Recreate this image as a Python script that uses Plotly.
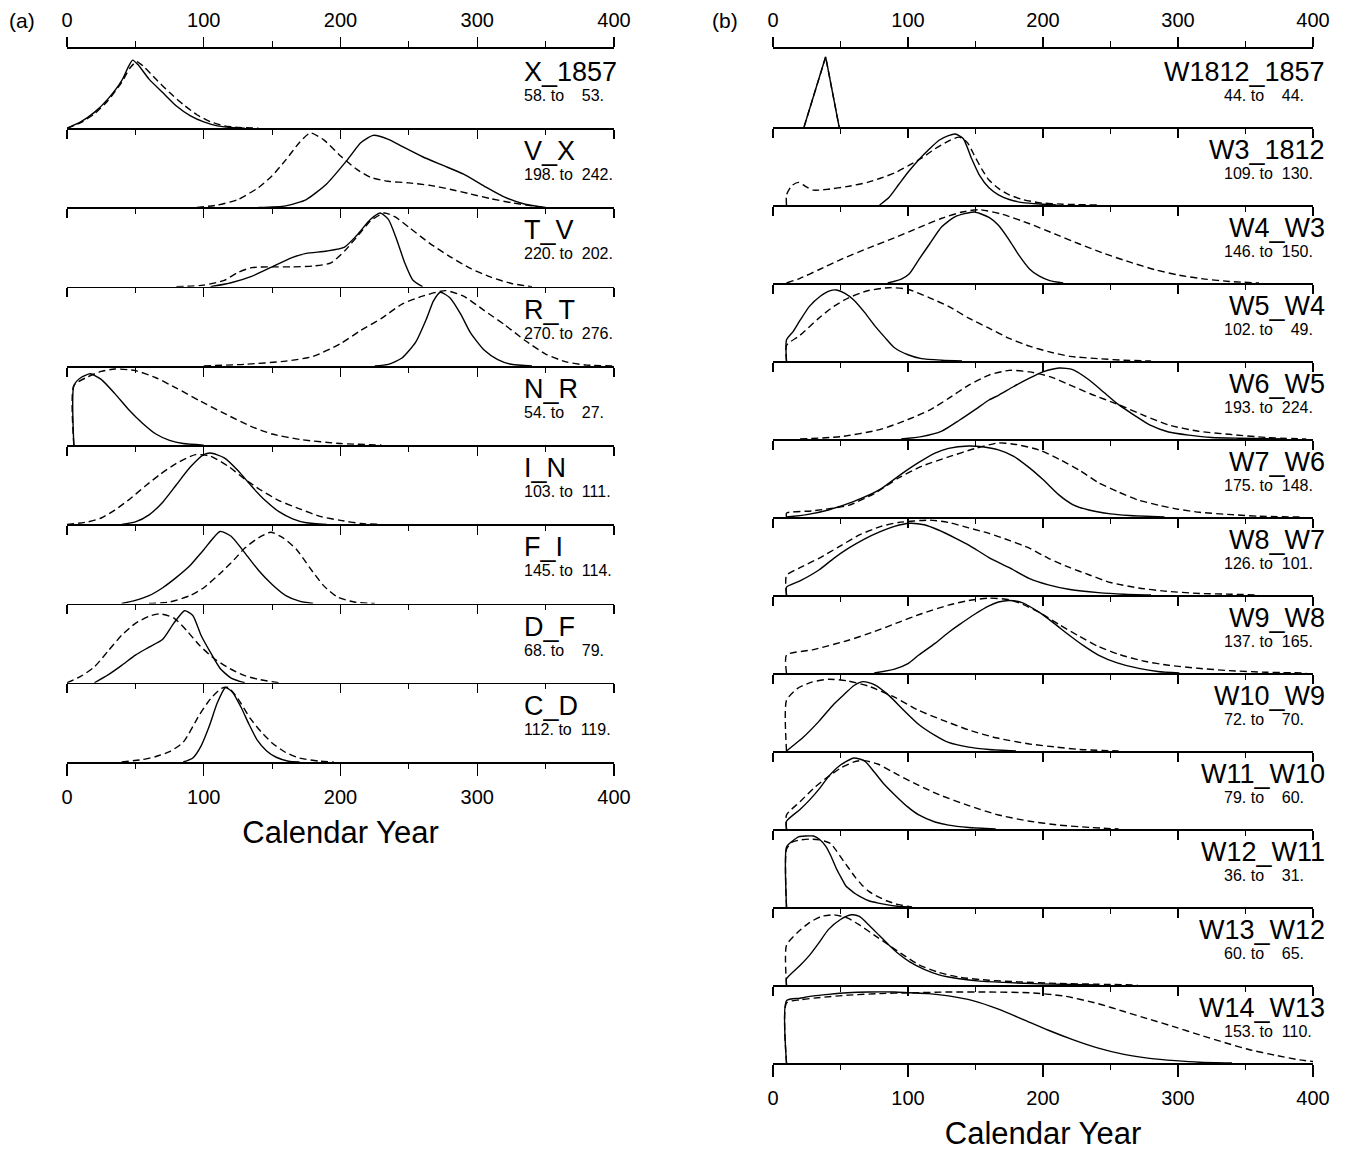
import plotly.graph_objects as go

# ---------------- data ----------------
TICKS = [0, 100, 200, 300, 400]
MINOR_TICKS = [50, 150, 250, 350]

A_TITLES = ["X_1857", "V_X", "T_V", "R_T", "N_R", "I_N", "F_I", "D_F", "C_D"]
A_FROM = [58, 198, 220, 270, 54, 103, 145, 68, 112]
A_TO = [53, 242, 202, 276, 27, 111, 114, 79, 119]

A_SOLID = [
    [(0, 0), (10, 0.08), (20, 0.2), (30, 0.37), (40, 0.6), (45, 0.78), (48, 0.86), (52, 0.8), (60, 0.62), (70, 0.45), (80, 0.28), (90, 0.16), (100, 0.08), (110, 0.03), (120, 0.01), (130, 0)],
    [(140, 0), (160, 0.02), (175, 0.1), (190, 0.3), (205, 0.6), (215, 0.82), (224, 0.91), (235, 0.86), (245, 0.77), (260, 0.64), (275, 0.53), (290, 0.42), (305, 0.27), (320, 0.13), (335, 0.04), (350, 0)],
    [(105, 0), (120, 0.05), (135, 0.13), (150, 0.25), (165, 0.37), (175, 0.42), (190, 0.45), (203, 0.5), (212, 0.65), (222, 0.85), (229, 0.93), (235, 0.85), (241, 0.6), (247, 0.3), (253, 0.08), (260, 0)],
    [(225, 0), (235, 0.02), (245, 0.1), (255, 0.3), (263, 0.6), (268, 0.82), (273, 0.93), (280, 0.86), (288, 0.65), (295, 0.42), (305, 0.2), (315, 0.08), (325, 0.02), (340, 0)],
    [(5, 0), (5, 0.75), (10, 0.85), (17, 0.9), (25, 0.83), (35, 0.65), (45, 0.45), (55, 0.28), (65, 0.14), (75, 0.06), (85, 0.02), (100, 0)],
    [(40, 0), (50, 0.03), (60, 0.12), (70, 0.28), (80, 0.5), (90, 0.72), (100, 0.88), (105, 0.9), (115, 0.84), (125, 0.68), (135, 0.48), (145, 0.3), (155, 0.16), (165, 0.07), (175, 0.02), (190, 0)],
    [(40, 0), (50, 0.04), (60, 0.1), (70, 0.2), (80, 0.33), (90, 0.48), (100, 0.68), (112, 0.91), (120, 0.85), (130, 0.64), (140, 0.42), (150, 0.24), (160, 0.1), (170, 0.03), (180, 0)],
    [(20, 0), (30, 0.1), (40, 0.22), (50, 0.35), (60, 0.45), (70, 0.55), (78, 0.75), (86, 0.91), (92, 0.85), (98, 0.6), (105, 0.38), (112, 0.18), (120, 0.06), (130, 0)],
    [(85, 0), (92, 0.05), (98, 0.2), (104, 0.45), (110, 0.75), (116, 0.94), (121, 0.88), (127, 0.7), (133, 0.48), (139, 0.28), (146, 0.14), (153, 0.06), (162, 0.01), (170, 0)],
]
A_DASHED = [
    [(0, 0), (10, 0.07), (20, 0.18), (30, 0.35), (40, 0.58), (46, 0.76), (51, 0.84), (56, 0.78), (65, 0.62), (75, 0.45), (85, 0.3), (95, 0.17), (105, 0.08), (115, 0.03), (125, 0.01), (140, 0)],
    [(95, 0), (110, 0.03), (125, 0.1), (140, 0.25), (150, 0.4), (160, 0.6), (170, 0.82), (178, 0.94), (188, 0.85), (200, 0.65), (212, 0.48), (222, 0.38), (235, 0.33), (250, 0.31), (265, 0.28), (280, 0.23), (295, 0.17), (310, 0.11), (325, 0.06), (340, 0.02), (350, 0)],
    [(80, 0), (100, 0.02), (115, 0.08), (125, 0.18), (135, 0.24), (150, 0.25), (165, 0.25), (180, 0.26), (193, 0.3), (203, 0.45), (213, 0.65), (222, 0.83), (232, 0.93), (240, 0.88), (250, 0.75), (265, 0.55), (280, 0.38), (295, 0.23), (310, 0.12), (325, 0.04), (340, 0)],
    [(100, 0), (130, 0.02), (160, 0.06), (180, 0.12), (200, 0.28), (215, 0.45), (230, 0.6), (245, 0.78), (260, 0.88), (277, 0.95), (290, 0.88), (305, 0.7), (320, 0.52), (335, 0.32), (350, 0.15), (365, 0.05), (380, 0.01), (400, 0)],
    [(5, 0), (5, 0.75), (15, 0.86), (25, 0.93), (35, 0.96), (50, 0.94), (65, 0.85), (80, 0.72), (97, 0.56), (115, 0.4), (134, 0.24), (150, 0.14), (171, 0.07), (200, 0.02), (230, 0)],
    [(0, 0), (15, 0.03), (25, 0.08), (35, 0.18), (46, 0.32), (57, 0.48), (68, 0.63), (80, 0.77), (94, 0.88), (105, 0.86), (119, 0.72), (130, 0.57), (141, 0.44), (155, 0.3), (171, 0.19), (185, 0.1), (200, 0.05), (215, 0.01), (230, 0)],
    [(60, 0), (75, 0.02), (90, 0.1), (100, 0.2), (112, 0.38), (122, 0.55), (130, 0.7), (140, 0.83), (149, 0.9), (158, 0.83), (168, 0.68), (178, 0.44), (188, 0.22), (198, 0.08), (210, 0.02), (225, 0)],
    [(0, 0), (10, 0.08), (20, 0.2), (30, 0.4), (40, 0.6), (50, 0.75), (60, 0.84), (68, 0.87), (78, 0.82), (88, 0.65), (97, 0.47), (108, 0.3), (119, 0.18), (130, 0.09), (141, 0.04), (155, 0)],
    [(40, 0), (55, 0.03), (65, 0.07), (75, 0.13), (85, 0.25), (97, 0.6), (105, 0.8), (113, 0.93), (118, 0.94), (125, 0.8), (134, 0.55), (142, 0.38), (150, 0.24), (160, 0.12), (170, 0.05), (185, 0.01), (195, 0)],
]

B_TITLES = ["W1812_1857", "W3_1812", "W4_W3", "W5_W4", "W6_W5", "W7_W6", "W8_W7",
            "W9_W8", "W10_W9", "W11_W10", "W12_W11", "W13_W12", "W14_W13"]
B_FROM = [44, 109, 146, 102, 193, 175, 126, 137, 72, 79, 36, 60, 153]
B_TO = [44, 130, 150, 49, 224, 148, 101, 165, 70, 60, 31, 65, 110]

B_SOLID = [
    [(23, 0), (39, 0.9), (49, 0)],
    [(79, 0), (86, 0.1), (93, 0.26), (100, 0.42), (108, 0.58), (116, 0.72), (123, 0.83), (130, 0.89), (135, 0.91), (141, 0.85), (147, 0.6), (153, 0.38), (160, 0.22), (167, 0.13), (175, 0.07), (185, 0.03), (200, 0.01), (210, 0)],
    [(85, 0), (95, 0.05), (101, 0.12), (108, 0.3), (116, 0.5), (125, 0.72), (135, 0.85), (149, 0.91), (160, 0.84), (167, 0.74), (175, 0.55), (182, 0.36), (190, 0.18), (197, 0.09), (205, 0.03), (215, 0)],
    [(10, 0), (10, 0.27), (15, 0.38), (20, 0.52), (27, 0.7), (35, 0.83), (42, 0.9), (47, 0.91), (53, 0.87), (60, 0.78), (68, 0.62), (75, 0.46), (83, 0.3), (90, 0.17), (100, 0.08), (110, 0.03), (125, 0.01), (140, 0)],
    [(95, 0), (110, 0.03), (125, 0.1), (138, 0.24), (150, 0.38), (160, 0.5), (167, 0.56), (178, 0.67), (190, 0.78), (200, 0.86), (212, 0.91), (222, 0.89), (234, 0.76), (245, 0.6), (256, 0.44), (268, 0.3), (279, 0.18), (293, 0.09), (308, 0.05), (325, 0.02), (345, 0.01), (380, 0)],
    [(10, 0), (25, 0.03), (41, 0.09), (60, 0.2), (79, 0.35), (95, 0.55), (108, 0.7), (120, 0.82), (130, 0.88), (145, 0.91), (155, 0.9), (167, 0.86), (178, 0.78), (190, 0.63), (200, 0.48), (212, 0.28), (222, 0.16), (234, 0.09), (250, 0.04), (264, 0.02), (290, 0)],
    [(10, 0), (10, 0.1), (20, 0.18), (34, 0.32), (45, 0.47), (56, 0.6), (68, 0.72), (79, 0.81), (90, 0.88), (101, 0.92), (112, 0.9), (123, 0.83), (135, 0.73), (145, 0.64), (160, 0.48), (175, 0.35), (190, 0.21), (204, 0.13), (220, 0.07), (241, 0.03), (260, 0.01), (280, 0)],
    [(75, 0), (90, 0.05), (100, 0.12), (108, 0.23), (120, 0.38), (130, 0.52), (138, 0.62), (150, 0.76), (160, 0.86), (167, 0.91), (175, 0.93), (185, 0.9), (197, 0.78), (208, 0.64), (219, 0.49), (230, 0.35), (241, 0.23), (255, 0.13), (271, 0.06), (285, 0.02), (301, 0)],
    [(10, 0), (15, 0.07), (22, 0.17), (34, 0.38), (45, 0.6), (53, 0.73), (60, 0.84), (67, 0.89), (75, 0.85), (86, 0.71), (97, 0.52), (108, 0.34), (120, 0.2), (130, 0.11), (145, 0.05), (160, 0.02), (180, 0)],
    [(10, 0), (10, 0.1), (20, 0.25), (27, 0.37), (35, 0.53), (41, 0.67), (50, 0.82), (60, 0.91), (68, 0.87), (75, 0.73), (82, 0.58), (90, 0.44), (100, 0.28), (108, 0.18), (120, 0.09), (130, 0.05), (145, 0.02), (165, 0)],
    [(10, 0), (10, 0.77), (14, 0.84), (19, 0.9), (24, 0.91), (30, 0.91), (35, 0.86), (39, 0.78), (43, 0.65), (47, 0.49), (51, 0.36), (54, 0.27), (58, 0.21), (61, 0.17), (66, 0.12), (71, 0.08), (78, 0.05), (84, 0.03), (92, 0.01), (100, 0)],
    [(10, 0), (10, 0.08), (20, 0.25), (27, 0.38), (34, 0.54), (41, 0.71), (50, 0.84), (58, 0.9), (64, 0.88), (71, 0.77), (79, 0.63), (86, 0.51), (93, 0.4), (101, 0.3), (112, 0.2), (123, 0.13), (138, 0.08), (153, 0.05), (175, 0.03), (197, 0.015), (241, 0)],
    [(10, 0), (10, 0.8), (20, 0.83), (30, 0.86), (41, 0.88), (55, 0.9), (71, 0.91), (90, 0.91), (101, 0.9), (115, 0.89), (130, 0.86), (148, 0.8), (167, 0.69), (185, 0.56), (204, 0.42), (222, 0.3), (241, 0.19), (260, 0.11), (279, 0.06), (298, 0.03), (316, 0.01), (340, 0)],
]
B_DASHED = [
    [(23, 0), (39, 0.9), (49, 0)],
    [(10, 0), (10, 0.13), (14, 0.25), (19, 0.29), (24, 0.24), (30, 0.19), (40, 0.2), (56, 0.24), (70, 0.29), (79, 0.34), (90, 0.41), (101, 0.51), (110, 0.6), (120, 0.72), (130, 0.82), (138, 0.87), (144, 0.8), (149, 0.64), (155, 0.45), (160, 0.32), (168, 0.2), (175, 0.13), (185, 0.07), (197, 0.03), (215, 0.01), (240, 0)],
    [(10, 0), (20, 0.06), (34, 0.17), (50, 0.3), (71, 0.45), (90, 0.58), (108, 0.71), (125, 0.83), (140, 0.91), (153, 0.94), (170, 0.88), (190, 0.76), (210, 0.62), (227, 0.5), (245, 0.38), (264, 0.27), (283, 0.17), (301, 0.1), (320, 0.05), (338, 0.02), (360, 0)],
    [(10, 0), (10, 0.2), (20, 0.33), (34, 0.55), (45, 0.7), (56, 0.81), (70, 0.9), (86, 0.94), (100, 0.92), (116, 0.81), (130, 0.7), (145, 0.55), (160, 0.42), (175, 0.29), (190, 0.19), (204, 0.12), (220, 0.06), (241, 0.03), (260, 0.01), (280, 0)],
    [(20, 0), (50, 0.03), (79, 0.12), (100, 0.25), (116, 0.37), (130, 0.52), (145, 0.69), (160, 0.82), (175, 0.88), (190, 0.86), (205, 0.8), (219, 0.7), (235, 0.58), (256, 0.44), (275, 0.3), (293, 0.18), (315, 0.1), (338, 0.06), (365, 0.02), (395, 0)],
    [(10, 0), (10, 0.05), (30, 0.08), (56, 0.15), (75, 0.3), (93, 0.5), (110, 0.65), (130, 0.77), (150, 0.88), (167, 0.95), (180, 0.93), (197, 0.86), (212, 0.74), (227, 0.6), (241, 0.44), (256, 0.32), (270, 0.22), (286, 0.15), (300, 0.1), (316, 0.06), (340, 0.03), (360, 0.01), (390, 0)],
    [(10, 0), (10, 0.25), (20, 0.35), (34, 0.47), (50, 0.63), (64, 0.77), (80, 0.88), (93, 0.93), (116, 0.96), (130, 0.93), (145, 0.86), (160, 0.79), (175, 0.7), (190, 0.6), (204, 0.47), (220, 0.35), (234, 0.26), (250, 0.16), (271, 0.09), (290, 0.05), (316, 0.02), (340, 0.01), (360, 0)],
    [(10, 0), (10, 0.23), (30, 0.3), (56, 0.42), (75, 0.53), (93, 0.65), (110, 0.76), (130, 0.87), (145, 0.93), (160, 0.96), (175, 0.94), (185, 0.88), (197, 0.78), (212, 0.62), (227, 0.47), (241, 0.34), (256, 0.24), (275, 0.15), (293, 0.1), (315, 0.06), (338, 0.03), (365, 0.01), (395, 0)],
    [(10, 0), (10, 0.65), (18, 0.8), (28, 0.88), (41, 0.92), (55, 0.9), (71, 0.83), (90, 0.69), (108, 0.52), (125, 0.4), (145, 0.27), (165, 0.17), (190, 0.09), (210, 0.05), (227, 0.02), (256, 0)],
    [(10, 0), (10, 0.18), (20, 0.35), (30, 0.52), (40, 0.66), (50, 0.78), (60, 0.86), (67, 0.88), (78, 0.83), (93, 0.69), (108, 0.56), (123, 0.44), (145, 0.3), (167, 0.18), (190, 0.1), (212, 0.05), (235, 0.02), (256, 0)],
    [(10, 0), (10, 0.74), (14, 0.83), (20, 0.86), (27, 0.87), (34, 0.86), (39, 0.84), (43, 0.81), (47, 0.72), (51, 0.62), (56, 0.5), (61, 0.38), (66, 0.28), (71, 0.2), (78, 0.13), (84, 0.08), (93, 0.03), (103, 0)],
    [(10, 0), (10, 0.51), (18, 0.67), (27, 0.8), (36, 0.88), (45, 0.9), (55, 0.86), (64, 0.77), (75, 0.64), (86, 0.51), (97, 0.38), (108, 0.26), (123, 0.16), (138, 0.1), (160, 0.06), (182, 0.04), (210, 0.02), (241, 0.01), (270, 0)],
    [(10, 0), (10, 0.77), (20, 0.81), (35, 0.84), (56, 0.87), (79, 0.89), (101, 0.9), (130, 0.91), (160, 0.91), (190, 0.9), (215, 0.86), (241, 0.76), (260, 0.66), (279, 0.56), (298, 0.46), (316, 0.36), (335, 0.26), (353, 0.17), (372, 0.1), (390, 0.04), (400, 0.02)],
]

AXIS_TITLE = "Calendar Year"

# ---------------- layout geometry (pixels) ----------------
W, H = 1345, 1152
FONT = "Liberation Sans, Arial, Helvetica, sans-serif"
NB = "\u00a0"


def px(xp):
    return xp / W


def py(yp):
    return 1 - yp / H


PANELS = [
    dict(name="(a)", titles=A_TITLES, frm=A_FROM, to=A_TO, solid=A_SOLID, dashed=A_DASHED,
         x0=67, x1=614, top=49, bottom=762, label_x=22, title_x=522, title_anchor="left", sub_x=522),
    dict(name="(b)", titles=B_TITLES, frm=B_FROM, to=B_TO, solid=B_SOLID, dashed=B_DASHED,
         x0=773, x1=1313, top=49, bottom=1063, label_x=725, title_x=1327, title_anchor="right", sub_x=1222),
]


def subtitle(a, b):
    pad = NB * (2 * (3 - len(str(b))))
    return f"{a}.{NB}to{NB}{NB}{pad}{b}."


fig = go.Figure()
layout = dict(
    width=W, height=H, margin=dict(l=0, r=0, t=0, b=0),
    paper_bgcolor="white", plot_bgcolor="rgba(0,0,0,0)",
    showlegend=False, font=dict(family=FONT, color="black"),
)
annotations = []
k = 0
top_axes = []
for P in PANELS:
    n = len(P["titles"])
    h = (P["bottom"] - P["top"]) / n
    first_k = k + 1
    for i in range(n):
        k += 1
        t_px = P["top"] + i * h
        b_px = P["top"] + (i + 1) * h
        last = (i == n - 1)
        xa = dict(
            domain=[px(P["x0"]), px(P["x1"])], range=[0, 400], anchor=f"y{k}",
            showline=True, linecolor="black", linewidth=1.7,
            ticks="outside", tickvals=TICKS, ticklen=12 if last else 9, tickwidth=1.4, tickcolor="black",
            minor=dict(tickvals=MINOR_TICKS, ticks="outside", ticklen=5, tickwidth=1.2, tickcolor="black"),
            showgrid=False, zeroline=False, showticklabels=last, automargin=False,
            tickfont=dict(size=20, family=FONT, color="black"), ticklabelstandoff=4,
        )
        if last:
            xa["title"] = dict(text=AXIS_TITLE, font=dict(size=31, family=FONT, color="black"), standoff=14)
        ya = dict(domain=[py(b_px), py(t_px)], range=[0, 1], visible=False, fixedrange=True,
                  showgrid=False, zeroline=False)
        layout[f"xaxis{k}"] = xa
        layout[f"yaxis{k}"] = ya

        ds = P["dashed"][i]
        so = P["solid"][i]
        shape = "linear" if len(so) <= 3 else "spline"
        fig.add_trace(go.Scatter(x=[p[0] for p in ds], y=[p[1] for p in ds], xaxis=f"x{k}", yaxis=f"y{k}",
                                 mode="lines", cliponaxis=False, hoverinfo="skip",
                                 line=dict(color="black", width=1.4, dash="7px,4px", shape=shape, smoothing=0.6)))
        fig.add_trace(go.Scatter(x=[p[0] for p in so], y=[p[1] for p in so], xaxis=f"x{k}", yaxis=f"y{k}",
                                 mode="lines", cliponaxis=False, hoverinfo="skip",
                                 line=dict(color="black", width=1.4, shape=shape, smoothing=0.6)))

        annotations.append(dict(text=P["titles"][i], xref="paper", yref="paper",
                                x=px(P["title_x"]), y=py(t_px + 23), xanchor=P["title_anchor"], yanchor="middle",
                                showarrow=False, font=dict(size=27, family=FONT, color="black")))
        annotations.append(dict(text=subtitle(P["frm"][i], P["to"][i]), xref="paper", yref="paper",
                                x=px(P["sub_x"]), y=py(t_px + 46.5), xanchor="left", yanchor="middle",
                                showarrow=False, font=dict(size=16, family=FONT, color="black")))
    top_axes.append(first_k)
    annotations.append(dict(text=P["name"], xref="paper", yref="paper", x=px(P["label_x"]), y=py(20),
                            xanchor="center", yanchor="middle", showarrow=False,
                            font=dict(size=21, family=FONT, color="black")))

for fk in top_axes:
    k += 1
    layout[f"xaxis{k}"] = dict(
        overlaying=f"x{fk}", side="top", anchor=f"y{fk}", range=[0, 400],
        showline=True, linecolor="black", linewidth=1.7,
        ticks="outside", tickvals=TICKS, ticklen=10, tickwidth=1.4, tickcolor="black",
        minor=dict(tickvals=MINOR_TICKS, ticks="outside", ticklen=6, tickwidth=1.2, tickcolor="black"),
        showgrid=False, zeroline=False, showticklabels=True, automargin=False,
        tickfont=dict(size=20, family=FONT, color="black"), ticklabelstandoff=2,
    )
    fig.add_trace(go.Scatter(x=[None], y=[None], xaxis=f"x{k}", yaxis=f"y{fk}", mode="lines",
                             hoverinfo="skip", line=dict(color="black")))

layout["annotations"] = annotations
fig.update_layout(**layout)
fig.write_html("out.html", config={"displayModeBar": False, "staticPlot": True},
               post_script="document.body.style.margin='0px';document.body.style.overflow='hidden';")
